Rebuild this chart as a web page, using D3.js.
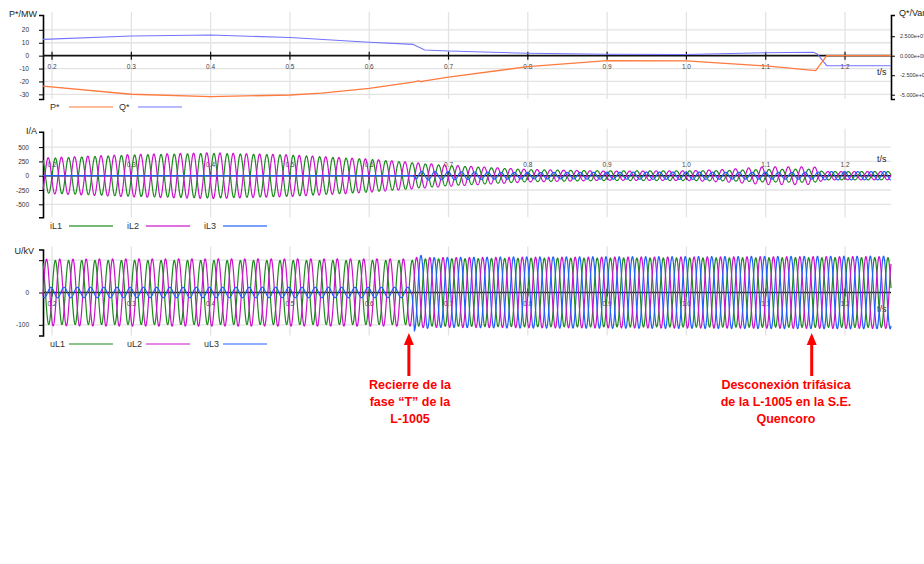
<!DOCTYPE html>
<html>
<head>
<meta charset="utf-8">
<script src="https://cdn.jsdelivr.net/npm/d3@7"></script>
<style>
  body { margin: 0; background: #fff; }
  text { font-family: Arial, "Liberation Sans", sans-serif; }
</style>
</head>
<body>
<div id="chart-area"></div>
<script>
// ---- data ----
var timeDomain = [0.1886, 1.258];
var timeTicks = [0.2, 0.3, 0.4, 0.5, 0.6, 0.7, 0.8, 0.9, 1.0, 1.1, 1.2];
var netFreq = 60;

// P* (MW) and Q* (Var)
var pTime  = [0.1886, 0.3, 0.4, 0.5, 0.54, 0.6, 0.655, 0.662, 0.666, 0.67, 0.7, 0.8, 0.9, 1.0, 1.1, 1.163, 1.177, 1.258];
var pVals  = [-23.7, -29.9, -31.8, -30.5, -29.1, -25.3, -20.6, -19.6, -20.2, -19.5, -16.7, -8.5, -3.9, -4.1, -8.0, -11.6, 0, 0];
var qTime  = [0.1886, 0.3, 0.4, 0.5, 0.6, 0.655, 0.67, 0.7, 0.8, 0.9, 1.0, 1.1, 1.16, 1.165, 1.177, 1.258];
var qVals  = [2.10e7, 2.53e7, 2.65e7, 2.33e7, 1.72e7, 1.46e7, 0.73e7, 0.60e7, 0.31e7, 0.18e7, 0.15e7, 0.38e7, 0.44e7, 0.22e7, -1.28e7, -1.28e7];
var pTicks = [20, 10, 0, -10, -20, -30];
var qTicks = [2.5e7, 0, -2.5e7, -5e7];

// phase currents: peak amplitude (A) at each time, phase angle (deg)
var iTime  = [0.1886, 0.3, 0.4, 0.5, 0.6, 0.655, 0.66, 0.7, 0.8, 0.9, 1.0, 1.05, 1.1, 1.15, 1.165, 1.172, 1.258];
var iL1Amp = [300, 360, 390, 360, 285, 225, 215, 175, 105, 85, 85, 90, 110, 115, 110, 72, 72];
var iL2Amp = [310, 370, 400, 365, 290, 230, 225, 185, 110, 80, 85, 110, 155, 155, 150, 72, 72];
var iL3Amp = [0, 0, 0, 0, 0, 0, 75, 70, 55, 60, 65, 60, 60, 60, 60, 72, 72];
var iPhase = [0, 195, 100];
var iTicks = [500, 250, 0, -250, -500];

// phase voltages: peak amplitude (kV) at each time, phase angle (deg)
var uTime  = [0.1886, 0.3, 0.5, 0.654, 0.657, 0.662, 0.68, 0.8, 1.0, 1.2, 1.258];
var uL1Amp = [99, 99, 99, 99, 104, 104, 104, 106, 107, 108, 108];
var uL2Amp = [103, 104, 104, 104, 108, 109, 108, 109, 110, 111, 111];
var uL3Amp = [16, 16, 16, 16, 118, 116, 108, 110, 111, 112, 112];
var uPhase = [0, 240, 120];
var uTicks = [100, 0, -100];

// event times marked with arrows
var eventTimes = [0.650, 1.158];

var colGreen = "#1b8a1b", colMagenta = "#cc11cc", colBlue = "#1f5fff";

// ---- layout ----
var svg = d3.select("#chart-area").append("svg")
    .attr("width", 924).attr("height", 564);

var x = d3.scaleLinear().domain(timeDomain).range([43, 891]);

var yP = d3.scaleLinear().domain([-33.6, 31.5]).range([99, 15]);
var yQ = d3.scaleLinear().domain([-5.55e7, 5.22e7]).range([99, 15]);
var yI = d3.scaleLinear().domain([-727, 769]).range([217.3, 131.7]);
var yU = d3.scaleLinear().domain([-133, 133]).range([335.5, 249.5]);

var plain = function(d) { return String(d); };

function grid(y, ticks) {
  var g = svg.append("g");
  var r = y.range();
  g.selectAll(".vg").data(timeTicks).enter().append("line")
      .attr("x1", function(d) { return x(d); }).attr("x2", function(d) { return x(d); })
      .attr("y1", r[1] - 3).attr("y2", r[0])
      .attr("stroke", "#e3e3e3").attr("stroke-width", 1.3);
  g.selectAll(".hg").data(ticks.filter(function(d) { return d !== 0; })).enter().append("line")
      .attr("x1", x.range()[0]).attr("x2", x.range()[1])
      .attr("y1", function(d) { return y(d); }).attr("y2", function(d) { return y(d); })
      .attr("stroke", "#e3e3e3").attr("stroke-width", 1.3);
}

function leftAxis(y, ticks, fmt, title, titleX, titleY) {
  var g = svg.append("g").attr("transform", "translate(" + x.range()[0] + ",0)")
      .call(d3.axisLeft(y).tickValues(ticks).tickSize(4).tickSizeOuter(4).tickPadding(10).tickFormat(fmt));
  g.select(".domain").attr("stroke", "#000").attr("stroke-width", 1.6);
  g.selectAll(".tick line").attr("stroke", "#000");
  g.selectAll(".tick text").attr("font-size", "6.5px").attr("fill", "#333").attr("font-family", "Arial");
  svg.append("text").attr("x", titleX).attr("y", titleY).attr("text-anchor", "end")
      .attr("font-size", "9px").attr("fill", "#222").text(title);
}

function timeAxis(y, labelY, tsY) {
  var g = svg.append("g");
  var y0 = y(0);
  g.append("line").attr("x1", x.range()[0]).attr("x2", x.range()[1])
      .attr("y1", y0).attr("y2", y0).attr("stroke", "#111").attr("stroke-width", 1.6);
  g.selectAll(".tk").data(timeTicks).enter().append("line")
      .attr("x1", function(d) { return x(d); }).attr("x2", function(d) { return x(d); })
      .attr("y1", y0 - 4).attr("y2", y0 + 4).attr("stroke", "#111").attr("stroke-width", 1.2);
  g.selectAll(".tl").data(timeTicks).enter().append("text")
      .attr("x", function(d) { return x(d); }).attr("y", labelY)
      .attr("text-anchor", "middle").attr("font-size", "6.5px").attr("fill", "#444")
      .text(function(d) { return d.toFixed(1); });
  svg.append("text").attr("x", 877).attr("y", tsY).attr("font-size", "9px").attr("fill", "#222").text("t/s");
}

function legend(items, y, lineW, lineOp, xs) {
  items.forEach(function(it, i) {
    svg.append("text").attr("x", xs[i]).attr("y", y + 3).attr("font-size", "9px").attr("fill", "#333").text(it.name);
    svg.append("line").attr("x1", xs[i] + 19).attr("x2", xs[i] + 63)
        .attr("y1", y).attr("y2", y).attr("stroke", it.color)
        .attr("stroke-width", lineW).attr("stroke-opacity", lineOp);
  });
}

function wave(times, amps, phaseDeg) {
  var env = d3.scaleLinear().domain(times).range(amps).clamp(true);
  var pts = [];
  var n = Math.round((timeDomain[1] - timeDomain[0]) / 0.0002);
  for (var k = 0; k <= n; k++) {
    var t = timeDomain[0] + k * 0.0002;
    pts.push([t, env(t) * Math.sin(2 * Math.PI * netFreq * t + phaseDeg * Math.PI / 180)]);
  }
  return pts;
}

function drawLine(pts, y, color, w) {
  var line = d3.line().x(function(d) { return x(d[0]); }).y(function(d) { return y(d[1]); });
  svg.append("path").datum(pts).attr("d", line)
      .attr("fill", "none").attr("stroke", color).attr("stroke-width", w);
}

// ---- panel 1: P*, Q* ----
grid(yP, pTicks);
leftAxis(yP, pTicks, plain, "P*/MW", 37, 17);
var rightG = svg.append("g").attr("transform", "translate(" + x.range()[1] + ",0)")
    .call(d3.axisRight(yQ).tickValues(qTicks).tickSize(4).tickSizeOuter(4).tickPadding(5)
    .tickFormat(function(d) { return d3.format(".3e")(d).replace("\u2212", "-").replace(/e([+-])(\d)$/, "e$10$2"); }));
rightG.select(".domain").attr("stroke", "#000").attr("stroke-width", 1.6);
rightG.selectAll(".tick text").attr("font-size", "5.5px").attr("fill", "#333").attr("font-family", "Arial");
svg.append("text").attr("x", 899).attr("y", 16).attr("font-size", "9px").attr("fill", "#222").text("Q*/Var");
timeAxis(yP, 69, 75);
drawLine(d3.zip(qTime, qVals), yQ, "#7373ff", 1.1);
drawLine(d3.zip(pTime, pVals), yP, "#ff7a3d", 1.3);
legend([{ name: "P*", color: "#ff7a3d" }, { name: "Q*", color: "#7373ff" }], 107, 1, 1, [50, 119]);

// ---- panel 2: currents ----
grid(yI, iTicks);
leftAxis(yI, iTicks, plain, "I/A", 37, 134);
timeAxis(yI, 167, 162);
drawLine(wave(iTime, iL1Amp, iPhase[0]), yI, colGreen, 1.2);
drawLine(wave(iTime, iL2Amp, iPhase[1]), yI, colMagenta, 1.2);
drawLine(wave(iTime, iL3Amp, iPhase[2]), yI, colBlue, 1.2);
legend([{ name: "iL1", color: colGreen }, { name: "iL2", color: colMagenta }, { name: "iL3", color: colBlue }],
    226, 2, 0.6, [50, 127, 204]);

// ---- panel 3: voltages ----
grid(yU, uTicks);
leftAxis(yU, uTicks, function(d) { return d === 100 ? "" : String(d); }, "U/kV", 34, 254);
timeAxis(yU, 306, 312);
drawLine(wave(uTime, uL1Amp, uPhase[0]), yU, colGreen, 1.2);
drawLine(wave(uTime, uL2Amp, uPhase[1]), yU, colMagenta, 1.2);
drawLine(wave(uTime, uL3Amp, uPhase[2]), yU, colBlue, 1.2);
legend([{ name: "uL1", color: colGreen }, { name: "uL2", color: colMagenta }, { name: "uL3", color: colBlue }],
    344, 1.2, 1, [50, 127, 204]);

// ---- annotations ----
function arrow(ax, texts, tx) {
  var g = svg.append("g");
  g.append("line").attr("x1", ax).attr("x2", ax).attr("y1", 344).attr("y2", 376)
      .attr("stroke", "#ff0000").attr("stroke-width", 3);
  g.append("path").attr("d", "M" + (ax - 5) + ",345 L" + ax + ",333 L" + (ax + 5) + ",345 Z").attr("fill", "#ff0000");
  g.selectAll("text").data(texts).enter().append("text")
      .attr("x", tx).attr("y", function(d, i) { return 389 + i * 17; })
      .attr("text-anchor", "middle").attr("font-size", "12.5px").attr("font-weight", "bold")
      .attr("fill", "#ff0000").text(function(d) { return d; });
}
arrow(x(eventTimes[0]), ["Recierre de la", "fase \u201cT\u201d de la", "L-1005"], 410);
arrow(x(eventTimes[1]), ["Desconexión trifásica", "de la L-1005 en la S.E.", "Quencoro"], 786);
</script>
</body>
</html>
